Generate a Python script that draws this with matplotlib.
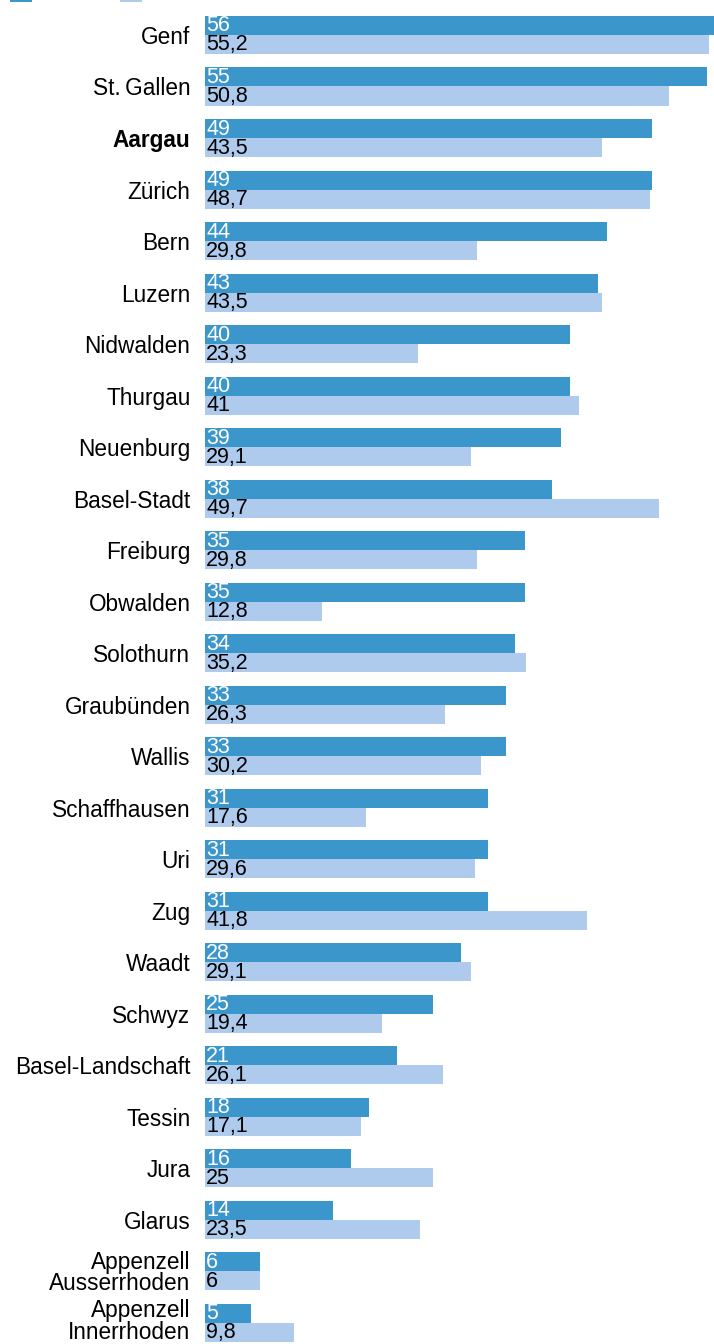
import numpy as np
import matplotlib
import matplotlib.pyplot as plt
import matplotlib.transforms as mtransforms

matplotlib.use('agg')
plt.rcParams['font.family'] = ['Liberation Sans', 'DejaVu Sans']

kantone = ['Genf', 'St.\u2009Gallen', 'Aargau', 'Zürich', 'Bern', 'Luzern', 'Nidwalden',
           'Thurgau', 'Neuenburg', 'Basel-Stadt', 'Freiburg', 'Obwalden', 'Solothurn',
           'Graubünden', 'Wallis', 'Schaffhausen', 'Uri', 'Zug', 'Waadt', 'Schwyz',
           'Basel-Landschaft', 'Tessin', 'Jura', 'Glarus',
           'Appenzell\nAusserrhoden', 'Appenzell\nInnerrhoden']
werte_neu = [56, 55, 49, 49, 44, 43, 40, 40, 39, 38, 35, 35, 34, 33, 33, 31, 31, 31,
             28, 25, 21, 18, 16, 14, 6, 5]
werte_alt = [55.2, 50.8, 43.5, 48.7, 29.8, 43.5, 23.3, 41, 29.1, 49.7, 29.8, 12.8, 35.2,
             26.3, 30.2, 17.6, 29.6, 41.8, 29.1, 19.4, 26.1, 17.1, 25, 23.5, 6, 9.8]
legende = ['2023', '2019']

DARK = '#3b96cb'
LIGHT = '#aecbed'

fig = plt.figure(figsize=(7.14, 13.44), dpi=100)
ax = fig.add_axes([205 / 714, 0, 1 - 205 / 714, 1])

y = np.arange(len(kantone))
h = 0.369
b1 = ax.barh(y - h / 2, werte_neu, height=h, color=DARK, label=legende[0])
b2 = ax.barh(y + h / 2, werte_alt, height=h, color=LIGHT, label=legende[1])

def fmt(v):
    return ('%g' % v).replace('.', ',')

for i in range(len(kantone)):
    ax.text(0.12, y[i] - h / 2 + 0.01, fmt(werte_neu[i]), color='white', fontsize=15.5,
            va='center', ha='left')
    ax.text(0.12, y[i] + h / 2 + 0.01, fmt(werte_alt[i]), color='black', fontsize=15.5,
            va='center', ha='left')

ax.set_xlim(0, 55.75)
ax.set_ylim(25.41, -0.679)
ax.set_yticks(y)
ax.set_yticklabels(kantone, fontsize=16.3, linespacing=0.9)
ax.get_yticklabels()[2].set_fontweight('bold')
ax.tick_params(axis='y', length=0, pad=10.5)
ax.set_xticks([])
for s in ax.spines.values():
    s.set_visible(False)

# die zweizeiligen Appenzell-Labels etwas anheben
shift = mtransforms.ScaledTranslation(0, 3 / 100, fig.dpi_scale_trans)
for lab in ax.get_yticklabels()[-1:]:
    lab.set_transform(lab.get_transform() + shift)

fig.legend(handles=[b1, b2], loc='lower left', bbox_to_anchor=(10 / 714, 1 - 3 / 1344),
           ncol=2, frameon=False, borderaxespad=0, borderpad=0, fontsize=15,
           handlelength=1.05, handleheight=1.15, handletextpad=0.4, columnspacing=1.6,
           labelcolor='#666666')

fig.savefig('out.png', dpi=100)
